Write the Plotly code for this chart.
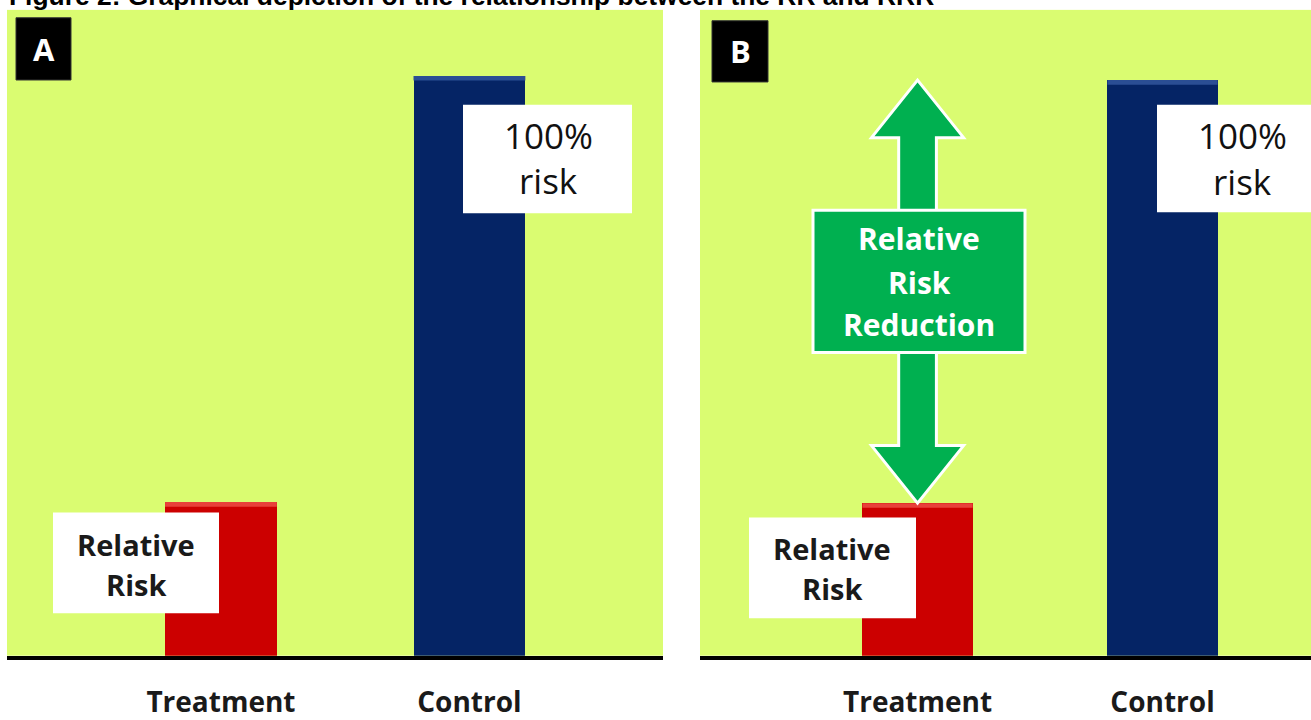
import plotly.graph_objects as go

# ---------------- data ----------------
categories = ["Treatment", "Control"]
risk_pct = [26.5, 100]          # relative risk of treatment vs control (%)
bar_colors = ["#CC0000", "#052465"]
bar_top_colors = ["#E8403A", "#2B4E94"]
panel_labels = ["A", "B"]
title_text = "Figure 2: Graphical depiction of the relationship between the RR and RRR"
rr_label = ["Relative", "Risk"]
ctrl_label = ["100%", "risk"]
rrr_label = ["Relative", "Risk", "Reduction"]

# ---------------- layout helpers ----------------
W, H = 1311, 720
BG = "#DAFC71"
GREEN = "#00B050"
BAR_W = 0.45


def px(x):
    return x / W


def py(y):
    return 1 - y / H


x_pos = list(range(len(categories)))

fig = go.Figure()

# bars for both panels
for axis_suffix in ["", "2"]:
    fig.add_trace(go.Bar(
        x=x_pos, y=risk_pct, width=BAR_W,
        marker=dict(color=bar_colors, line=dict(width=0)),
        xaxis="x" + axis_suffix, yaxis="y" + axis_suffix,
        showlegend=False, hoverinfo="skip",
    ))

tick_font = dict(family="Open Sans", size=28, color="#1a1a1a", weight="bold")
common_x = dict(
    tickmode="array", tickvals=x_pos, ticktext=categories,
    showline=True, linecolor="black", linewidth=4,
    showgrid=False, zeroline=False, ticks="outside", ticklen=19,
    tickcolor="rgba(0,0,0,0)", tickfont=tick_font, fixedrange=True,
)
common_y = dict(showgrid=False, zeroline=False, showticklabels=False,
                showline=False, fixedrange=True)

ydom = [py(664), py(10)]
fig.update_layout(
    width=W, height=H,
    margin=dict(l=0, r=0, t=0, b=0),
    paper_bgcolor="white", plot_bgcolor=BG,
    xaxis=dict(domain=[px(7), px(663)], range=[-0.861, 1.779], **common_x),
    yaxis=dict(domain=ydom, range=[0, 111.4], **common_y),
    xaxis2=dict(domain=[px(700), 1.0], range=[-0.888, 1.606], anchor="y2", **common_x),
    yaxis2=dict(domain=ydom, range=[0, 112.2], anchor="x2", **common_y),
    bargap=0,
)

shapes = []
annotations = []

# subtle bevel highlight on bar tops
for axis_suffix in ["", "2"]:
    for xi, v, col in zip(x_pos, risk_pct, bar_top_colors):
        shapes.append(dict(type="rect", xref="x" + axis_suffix, yref="y" + axis_suffix,
                           x0=xi - BAR_W / 2, x1=xi + BAR_W / 2, y0=v - 0.8, y1=v,
                           fillcolor=col, line=dict(width=0), layer="above"))

# ---- RRR double arrow in panel B (from treatment risk up to control risk) ----
c = x_pos[0]
y_lo, y_hi = risk_pct[0], risk_pct[1]
hw, sw, hh = 0.188, 0.077, 10.0
path = (
    f"M {c},{y_hi} L {c + hw},{y_hi - hh} L {c + sw},{y_hi - hh} "
    f"L {c + sw},{y_lo + hh} L {c + hw},{y_lo + hh} L {c},{y_lo} "
    f"L {c - hw},{y_lo + hh} L {c - sw},{y_lo + hh} L {c - sw},{y_hi - hh} "
    f"L {c - hw},{y_hi - hh} Z"
)
shapes.append(dict(type="path", path=path, xref="x2", yref="y2",
                   fillcolor=GREEN, line=dict(color="white", width=3), layer="above"))

# green RRR box
shapes.append(dict(type="rect", xref="paper", yref="paper",
                   x0=px(813), x1=px(1025), y0=py(357), y1=py(213),
                   fillcolor=GREEN, line=dict(color="white", width=3), layer="above"))
for txt, yy in zip(rrr_label, [242, 286, 329]):
    annotations.append(dict(text=f"<b>{txt}</b>", xref="paper", yref="paper",
                            x=px(919), y=py(yy), xanchor="center", yanchor="middle",
                            showarrow=False,
                            font=dict(family="Open Sans", size=30, color="white")))

# white label boxes: (x0, x1, y0, y1) in pixels, text center x, text y's
rr_boxes = [((53, 219, 519, 621), 136, [551, 592]),
            ((749, 916, 524, 626), 832, [555, 596])]
ctrl_boxes = [((463, 632, 106, 216), 548, [137, 183]),
              ((1157, 1320, 106, 215), 1242, [137, 184])]

for (x0, x1, y0, y1), tx, tys in rr_boxes:
    shapes.append(dict(type="rect", xref="paper", yref="paper",
                       x0=px(x0), x1=px(x1), y0=py(y1), y1=py(y0),
                       fillcolor="white", line=dict(width=0), layer="above"))
    for txt, yy in zip(rr_label, tys):
        annotations.append(dict(text=f"<b>{txt}</b>", xref="paper", yref="paper",
                                x=px(tx), y=py(yy), xanchor="center", yanchor="middle",
                                showarrow=False,
                                font=dict(family="Open Sans", size=29, color="#1a1a1a")))

for (x0, x1, y0, y1), tx, tys in ctrl_boxes:
    shapes.append(dict(type="rect", xref="paper", yref="paper",
                       x0=px(x0), x1=px(x1), y0=py(y1), y1=py(y0),
                       fillcolor="white", line=dict(width=0), layer="above"))
    for txt, yy in zip(ctrl_label, tys):
        annotations.append(dict(text=txt, xref="paper", yref="paper",
                                x=px(tx), y=py(yy), xanchor="center", yanchor="middle",
                                showarrow=False,
                                font=dict(family="Open Sans", size=35, color="#111111")))

# panel letter boxes
letter_boxes = [((16, 71, 18, 81), (44, 50)), ((712, 768, 21, 83), (740, 52))]
for lab, ((x0, x1, y0, y1), (lx, ly)) in zip(panel_labels, letter_boxes):
    shapes.append(dict(type="rect", xref="paper", yref="paper",
                       x0=px(x0), x1=px(x1), y0=py(y1), y1=py(y0),
                       fillcolor="black", line=dict(color="#333333", width=1), layer="above"))
    annotations.append(dict(text=f"<b>{lab}</b>", xref="paper", yref="paper",
                            x=px(lx), y=py(ly), xanchor="center", yanchor="middle",
                            showarrow=False,
                            font=dict(family="Open Sans", size=31, color="white")))

# title (cut off at the top of the picture)
annotations.append(dict(text=f"<b>{title_text}</b>", xref="paper", yref="paper",
                        x=px(7), y=1, xanchor="left", yanchor="middle", yshift=4,
                        showarrow=False,
                        font=dict(family="Liberation Sans, Arial", size=26.4, color="black")))

fig.update_layout(shapes=shapes, annotations=annotations)

fig.write_html(
    "out.html",
    config={"displayModeBar": False},
    post_script="document.body.style.margin='0';document.body.style.overflow='hidden';",
)
